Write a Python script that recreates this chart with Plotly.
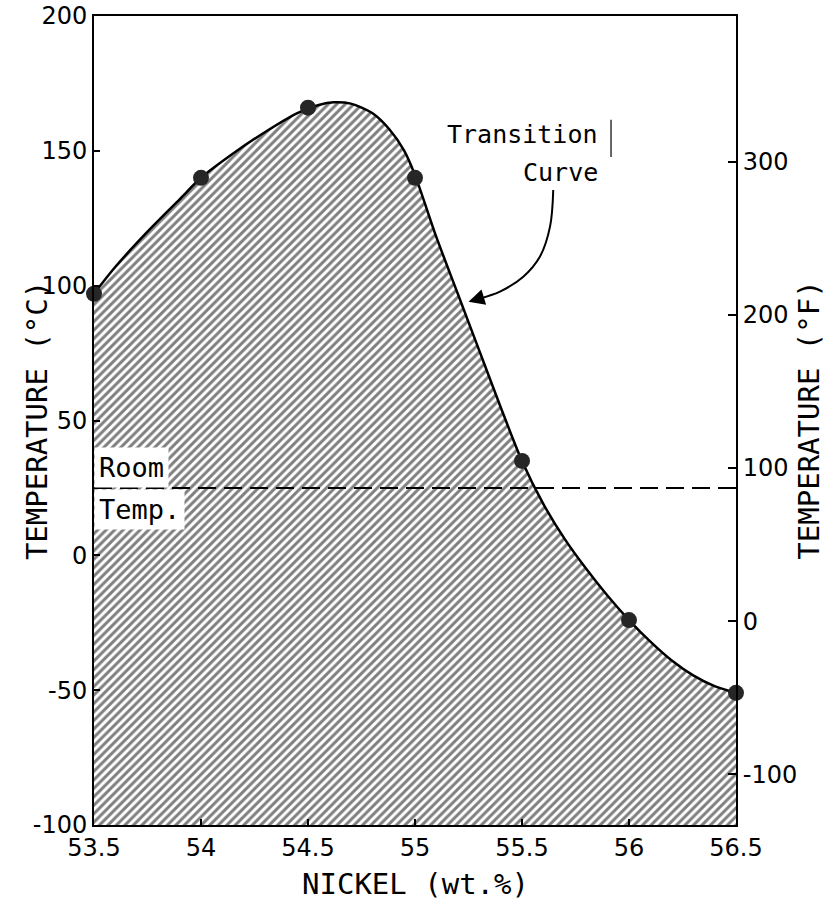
import plotly.graph_objects as go

# Measured data points (Ni wt.% vs transition temperature, deg C)
nickel = [53.5, 54.0, 54.5, 55.0, 55.5, 56.0, 56.5]
temp_c = [97, 140, 166, 140, 35, -24, -51]

# Transition curve as drawn in the figure
curve_x = [53.5, 53.6, 53.75, 53.9, 54.0, 54.15, 54.3, 54.45, 54.55, 54.62, 54.7, 54.8,
           54.88, 54.95, 55.0, 55.1, 55.2, 55.3, 55.4, 55.5, 55.6, 55.7, 55.8, 55.9,
           56.0, 56.1, 56.2, 56.3, 56.4, 56.5]
curve_y = [97, 107, 120, 132, 140, 149, 157, 164, 167, 168, 167.5, 164,
           158, 150, 141, 118, 97, 76, 55, 35, 19, 6, -5, -15,
           -24, -32, -39, -44.5, -48.5, -51]

room_temp = 25

# Curved pointer from the "Transition Curve" label to the curve
arrow_x = [55.646, 55.631, 55.584, 55.506, 55.397, 55.30]
arrow_y = [135.5, 121.9, 110.8, 103.3, 97.8, 95.2]
arrow_tip = (55.25, 94.0)

x_ticks = [53.5, 54.0, 54.5, 55.0, 55.5, 56.0, 56.5]
x_ticktext = ["53.5", "54", "54.5", "55", "55.5", "56", "56.5"]
yc_ticks = [-100, -50, 0, 50, 100, 150, 200]
yc_ticktext = ["-100", "-50", "0", "50", "100", "150", "200"]
yf_ticks = [-100, 0, 100, 200, 300]
yf_ticktext = ["-100", "0", "100", "200", "300"]

x_range = [53.5, 56.5]
yc_range = [-100, 200]
yf_range = [-133, 395]

TICK_FONT = dict(family="DejaVu Sans", size=24, color="black")
LABEL_FONT = dict(family="DejaVu Sans Mono", size=25, color="black")
ROOM_FONT = dict(family="DejaVu Sans Mono", size=27, color="black")
TITLE_FONT = dict(family="DejaVu Sans Mono", size=29, color="black")

fig = go.Figure()

# baseline at bottom of axis for the hatched fill
fig.add_trace(go.Scatter(x=x_range, y=[yc_range[0], yc_range[0]], mode="lines",
                         line=dict(width=0), showlegend=False, hoverinfo="skip"))
# hatched region under transition curve
fig.add_trace(go.Scatter(x=curve_x, y=curve_y, mode="lines", fill="tonexty",
                         fillcolor="white",
                         fillpattern=dict(shape="/", size=6, solidity=0.5,
                                          fgcolor="black", bgcolor="white"),
                         line=dict(color="black", width=2.5, shape="spline", smoothing=0.8),
                         showlegend=False))
# room temperature dashed line
fig.add_trace(go.Scatter(x=x_range, y=[room_temp, room_temp], mode="lines",
                         line=dict(color="black", width=2, dash="18px,8px"),
                         showlegend=False))
# data points
fig.add_trace(go.Scatter(x=nickel, y=temp_c, mode="markers",
                         marker=dict(size=16, color="#262626"),
                         cliponaxis=False, showlegend=False))
# pointer line
fig.add_trace(go.Scatter(x=arrow_x, y=arrow_y, mode="lines",
                         line=dict(color="black", width=2, shape="spline"),
                         showlegend=False))
# invisible trace to carry the Fahrenheit axis
fig.add_trace(go.Scatter(x=[x_range[0]], y=[yf_range[0]], yaxis="y2", mode="markers",
                         marker=dict(opacity=0), showlegend=False, hoverinfo="skip"))

fig.add_annotation(x=arrow_tip[0], y=arrow_tip[1], ax=arrow_x[-1], ay=arrow_y[-1],
                   axref="x", ayref="y", xref="x", yref="y", text="",
                   showarrow=True, arrowhead=2, arrowsize=1.6, arrowwidth=2,
                   arrowcolor="black", standoff=0)

fig.add_annotation(x=55.864, y=155.9, xref="x", yref="y", text="Transition",
                   showarrow=False, xanchor="right", yanchor="middle", font=LABEL_FONT)
fig.add_annotation(x=55.864, y=141.8, xref="x", yref="y", text="Curve",
                   showarrow=False, xanchor="right", yanchor="middle", font=LABEL_FONT)
fig.add_shape(type="line", x0=55.916, x1=55.916, y0=147.7, y1=161.5, xref="x", yref="y",
              line=dict(color="black", width=1.2))

fig.add_annotation(x=53.5, y=room_temp, xref="x", yref="y", text="Room",
                   showarrow=False, xanchor="left", yanchor="bottom", yshift=0,
                   bgcolor="white", borderpad=4, font=ROOM_FONT)
fig.add_annotation(x=53.5, y=room_temp, xref="x", yref="y", text="Temp.",
                   showarrow=False, xanchor="left", yanchor="top", yshift=-1,
                   bgcolor="white", borderpad=4, font=ROOM_FONT)

# axis titles
fig.add_annotation(x=-0.119, y=0.5, xref="paper", yref="paper", text="TEMPERATURE (°C)",
                   textangle=-90, showarrow=False, font=TITLE_FONT)
fig.add_annotation(x=1.142, y=0.5, xref="paper", yref="paper", text="TEMPERATURE (°F)",
                   textangle=-90, showarrow=False, font=TITLE_FONT)
fig.add_annotation(x=0.5, y=-0.073, xref="paper", yref="paper", text="NICKEL (wt.%)",
                   showarrow=False, font=TITLE_FONT, yanchor="middle")

fig.update_layout(
    width=839, height=901,
    margin=dict(l=94, r=103, t=16, b=76, autoexpand=False),
    paper_bgcolor="white", plot_bgcolor="white",
    xaxis=dict(range=x_range, tickvals=x_ticks, ticktext=x_ticktext,
               showline=True, linecolor="black", linewidth=2, mirror=True,
               ticks="inside", ticklen=6, tickwidth=1.5, tickcolor="black",
               showgrid=False, zeroline=False, tickfont=TICK_FONT),
    yaxis=dict(range=yc_range, tickvals=yc_ticks, ticktext=yc_ticktext,
               showline=True, linecolor="black", linewidth=2,
               ticks="inside", ticklen=6, tickwidth=1.5, tickcolor="black",
               showgrid=False, zeroline=False, tickfont=TICK_FONT),
    yaxis2=dict(range=yf_range, tickvals=yf_ticks, ticktext=yf_ticktext,
                overlaying="y", side="right", anchor="x",
                showline=True, linecolor="black", linewidth=2,
                ticks="inside", ticklen=8, tickwidth=1.5, tickcolor="black",
                showgrid=False, zeroline=False, tickfont=TICK_FONT),
)

fig.write_html("out.html")
